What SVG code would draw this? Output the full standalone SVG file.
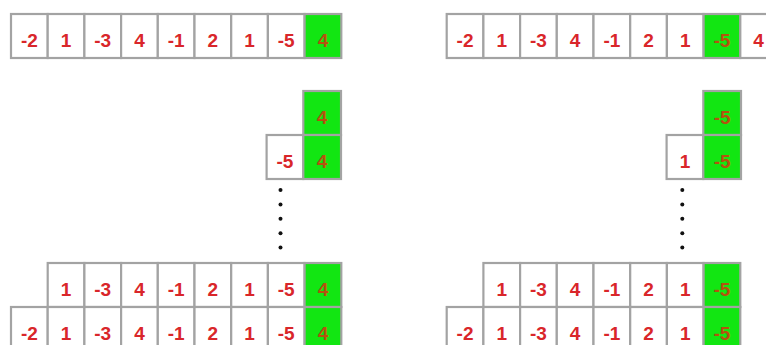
<svg xmlns="http://www.w3.org/2000/svg" width="766" height="345" viewBox="0 0 766 345">
<style>
.c{fill:#ffffff;stroke:#a3a3a3;stroke-width:2.2}
.g{fill:#12e612;stroke:#a3a3a3;stroke-width:2.2}
.t{font-family:"Liberation Sans",Arial,sans-serif;font-weight:bold;font-size:19px;fill:#d9262a;text-anchor:middle}
.tg{font-family:"Liberation Sans",Arial,sans-serif;font-weight:bold;font-size:19px;fill:#b5520e;text-anchor:middle}
.d{fill:#111111}
</style>
<rect width="766" height="345" fill="#ffffff"/>
<!-- LEFT: top array -->
<g id="left-top">
<rect class="c" x="11" y="14" width="36.7" height="44"/><text class="t" x="29.35" y="46.5">-2</text>
<rect class="c" x="47.7" y="14" width="36.7" height="44"/><text class="t" x="66.05" y="46.5">1</text>
<rect class="c" x="84.4" y="14" width="36.7" height="44"/><text class="t" x="102.75" y="46.5">-3</text>
<rect class="c" x="121.1" y="14" width="36.7" height="44"/><text class="t" x="139.45" y="46.5">4</text>
<rect class="c" x="157.8" y="14" width="36.7" height="44"/><text class="t" x="176.15" y="46.5">-1</text>
<rect class="c" x="194.5" y="14" width="36.7" height="44"/><text class="t" x="212.85" y="46.5">2</text>
<rect class="c" x="231.2" y="14" width="36.7" height="44"/><text class="t" x="249.55" y="46.5">1</text>
<rect class="c" x="267.9" y="14" width="36.7" height="44"/><text class="t" x="286.25" y="46.5">-5</text>
<rect class="g" x="304.6" y="14" width="36.7" height="44"/><text class="tg" x="322.95" y="46.5">4</text>
</g>
<g id="left-stack1">
<rect class="g" x="303.3" y="91" width="37.7" height="44"/><text class="tg" x="322.15" y="123.5">4</text>
</g>
<g id="left-stack2">
<rect class="c" x="266.6" y="135" width="36.7" height="44"/><text class="t" x="284.95" y="167.5">-5</text>
<rect class="g" x="303.3" y="135" width="37.7" height="44"/><text class="tg" x="322.15" y="167.5">4</text>
</g>
<g id="left-dots">
<circle class="d" cx="280.5" cy="190" r="2"/>
<circle class="d" cx="280.5" cy="204.4" r="2"/>
<circle class="d" cx="280.5" cy="218.8" r="2"/>
<circle class="d" cx="280.5" cy="233.2" r="2"/>
<circle class="d" cx="280.5" cy="247.6" r="2"/>
</g>
<g id="left-bottom1">
<rect class="c" x="47.7" y="263" width="36.7" height="44"/><text class="t" x="66.05" y="295.5">1</text>
<rect class="c" x="84.4" y="263" width="36.7" height="44"/><text class="t" x="102.75" y="295.5">-3</text>
<rect class="c" x="121.1" y="263" width="36.7" height="44"/><text class="t" x="139.45" y="295.5">4</text>
<rect class="c" x="157.8" y="263" width="36.7" height="44"/><text class="t" x="176.15" y="295.5">-1</text>
<rect class="c" x="194.5" y="263" width="36.7" height="44"/><text class="t" x="212.85" y="295.5">2</text>
<rect class="c" x="231.2" y="263" width="36.7" height="44"/><text class="t" x="249.55" y="295.5">1</text>
<rect class="c" x="267.9" y="263" width="36.7" height="44"/><text class="t" x="286.25" y="295.5">-5</text>
<rect class="g" x="304.6" y="263" width="36.7" height="44"/><text class="tg" x="322.95" y="295.5">4</text>
</g>
<g id="left-bottom2">
<rect class="c" x="11" y="307" width="36.7" height="44"/><text class="t" x="29.35" y="339.5">-2</text>
<rect class="c" x="47.7" y="307" width="36.7" height="44"/><text class="t" x="66.05" y="339.5">1</text>
<rect class="c" x="84.4" y="307" width="36.7" height="44"/><text class="t" x="102.75" y="339.5">-3</text>
<rect class="c" x="121.1" y="307" width="36.7" height="44"/><text class="t" x="139.45" y="339.5">4</text>
<rect class="c" x="157.8" y="307" width="36.7" height="44"/><text class="t" x="176.15" y="339.5">-1</text>
<rect class="c" x="194.5" y="307" width="36.7" height="44"/><text class="t" x="212.85" y="339.5">2</text>
<rect class="c" x="231.2" y="307" width="36.7" height="44"/><text class="t" x="249.55" y="339.5">1</text>
<rect class="c" x="267.9" y="307" width="36.7" height="44"/><text class="t" x="286.25" y="339.5">-5</text>
<rect class="g" x="304.6" y="307" width="36.7" height="44"/><text class="tg" x="322.95" y="339.5">4</text>
</g>
<!-- RIGHT -->
<g id="right-top">
<rect class="c" x="446.7" y="14" width="36.7" height="44"/><text class="t" x="465.05" y="46.5">-2</text>
<rect class="c" x="483.4" y="14" width="36.7" height="44"/><text class="t" x="501.75" y="46.5">1</text>
<rect class="c" x="520.1" y="14" width="36.7" height="44"/><text class="t" x="538.45" y="46.5">-3</text>
<rect class="c" x="556.8" y="14" width="36.7" height="44"/><text class="t" x="575.15" y="46.5">4</text>
<rect class="c" x="593.5" y="14" width="36.7" height="44"/><text class="t" x="611.85" y="46.5">-1</text>
<rect class="c" x="630.2" y="14" width="36.7" height="44"/><text class="t" x="648.55" y="46.5">2</text>
<rect class="c" x="666.9" y="14" width="36.7" height="44"/><text class="t" x="685.25" y="46.5">1</text>
<rect class="g" x="703.6" y="14" width="36.7" height="44"/><text class="tg" x="721.95" y="46.5">-5</text>
<rect class="c" x="740.3" y="14" width="36.7" height="44"/><text class="t" x="758.65" y="46.5">4</text>
</g>
<g id="right-stack1">
<rect class="g" x="703.3" y="91" width="37.7" height="44"/><text class="tg" x="722.15" y="123.5">-5</text>
</g>
<g id="right-stack2">
<rect class="c" x="666.6" y="135" width="36.7" height="44"/><text class="t" x="684.95" y="167.5">1</text>
<rect class="g" x="703.3" y="135" width="37.7" height="44"/><text class="tg" x="722.15" y="167.5">-5</text>
</g>
<g id="right-dots">
<circle class="d" cx="682.3" cy="190" r="2"/>
<circle class="d" cx="682.3" cy="204.4" r="2"/>
<circle class="d" cx="682.3" cy="218.8" r="2"/>
<circle class="d" cx="682.3" cy="233.2" r="2"/>
<circle class="d" cx="682.3" cy="247.6" r="2"/>
</g>
<g id="right-bottom1">
<rect class="c" x="483.4" y="263" width="36.7" height="44"/><text class="t" x="501.75" y="295.5">1</text>
<rect class="c" x="520.1" y="263" width="36.7" height="44"/><text class="t" x="538.45" y="295.5">-3</text>
<rect class="c" x="556.8" y="263" width="36.7" height="44"/><text class="t" x="575.15" y="295.5">4</text>
<rect class="c" x="593.5" y="263" width="36.7" height="44"/><text class="t" x="611.85" y="295.5">-1</text>
<rect class="c" x="630.2" y="263" width="36.7" height="44"/><text class="t" x="648.55" y="295.5">2</text>
<rect class="c" x="666.9" y="263" width="36.7" height="44"/><text class="t" x="685.25" y="295.5">1</text>
<rect class="g" x="703.6" y="263" width="36.7" height="44"/><text class="tg" x="721.95" y="295.5">-5</text>
</g>
<g id="right-bottom2">
<rect class="c" x="446.7" y="307" width="36.7" height="44"/><text class="t" x="465.05" y="339.5">-2</text>
<rect class="c" x="483.4" y="307" width="36.7" height="44"/><text class="t" x="501.75" y="339.5">1</text>
<rect class="c" x="520.1" y="307" width="36.7" height="44"/><text class="t" x="538.45" y="339.5">-3</text>
<rect class="c" x="556.8" y="307" width="36.7" height="44"/><text class="t" x="575.15" y="339.5">4</text>
<rect class="c" x="593.5" y="307" width="36.7" height="44"/><text class="t" x="611.85" y="339.5">-1</text>
<rect class="c" x="630.2" y="307" width="36.7" height="44"/><text class="t" x="648.55" y="339.5">2</text>
<rect class="c" x="666.9" y="307" width="36.7" height="44"/><text class="t" x="685.25" y="339.5">1</text>
<rect class="g" x="703.6" y="307" width="36.7" height="44"/><text class="tg" x="721.95" y="339.5">-5</text>
</g>
</svg>
